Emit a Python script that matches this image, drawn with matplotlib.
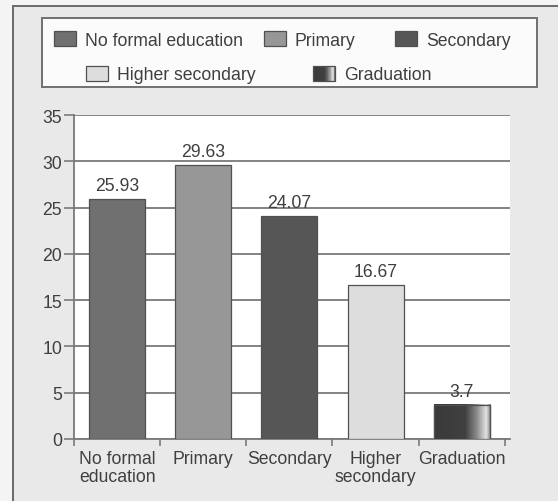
import numpy as np
import matplotlib.pyplot as plt
from matplotlib.patches import Rectangle
from matplotlib.colors import LinearSegmentedColormap

plt.rcParams['font.family'] = ['Liberation Sans', 'DejaVu Sans']

# Education level shares (%)
categories = ["No formal education", "Primary", "Secondary",
              "Higher secondary", "Graduation"]
tick_labels = ["No formal\neducation", "Primary", "Secondary",
               "Higher\nsecondary", "Graduation"]
values = [25.93, 29.63, 24.07, 16.67, 3.7]
bar_colors = ["#707070", "#979797", "#565656", "#dddddd", "#3c3c3c"]

W, H = 558, 502
fig = plt.figure(figsize=(W / 100, H / 100), dpi=100, facecolor="#f4f4f4")
txt = "#3f3f3f"
fs = 12.7

# grey gradient used for the "Graduation" bar
grad_cmap = LinearSegmentedColormap.from_list(
    "grad", [(0, "#3a3a3a"), (0.55, "#404040"), (0.75, "#8a8a8a"),
             (0.92, "#e2e2e2"), (1.0, "#7a7a7a")])


def px(x, y):
    # pixel coords (from top-left) to figure fraction
    return x / W, 1 - y / H


# outer panel frame
fx, fy = px(13, 7)
fig.patches.append(Rectangle((fx, -0.1), 1.2, fy + 0.1,
                             transform=fig.transFigure,
                             facecolor="#e9e9e9", edgecolor="#6a6a6a",
                             lw=1.4, zorder=-2))

# axes
ax = fig.add_axes([74 / W, 62 / H, (510 - 74) / W, (440 - 116) / H])
ax.set_facecolor("white")
x = np.arange(len(values))
bw = 0.65
bars = ax.bar(x, values, width=bw, color=bar_colors, edgecolor="#505050",
              lw=0.9, zorder=3)

# gradient fill over the last bar
b = bars[-1]
grad = np.linspace(0, 1, 256).reshape(1, -1)
ax.imshow(grad, cmap=grad_cmap, aspect="auto", zorder=3.5,
          extent=(b.get_x(), b.get_x() + b.get_width(), 0, b.get_height()))
ax.add_patch(Rectangle((b.get_x(), 0), b.get_width(), b.get_height(),
                       fill=False, edgecolor="#505050", lw=0.9, zorder=4))

for xi, v in zip(x, values):
    ax.annotate(f"{v:g}", (xi, v), xytext=(0, 3.5), textcoords="offset points",
                ha="center", va="bottom", fontsize=fs, color=txt, zorder=5)

ax.set_xlim(-0.5, 4.56)
ax.set_ylim(0, 35)
ax.set_yticks(np.arange(0, 36, 5))
ax.yaxis.grid(True, color="#7a7a7a", lw=1.3, zorder=1)
ax.set_axisbelow(True)
for s in ["top", "right"]:
    ax.spines[s].set_visible(False)
for s in ["left", "bottom"]:
    ax.spines[s].set_color("#7a7a7a")
    ax.spines[s].set_linewidth(1.3)
ax.tick_params(axis="y", length=7, width=1.2, color="#7a7a7a", pad=1.5,
               labelsize=fs, labelcolor=txt)

# boundary ticks on x, labels at bar centres
ax.set_xticks(np.arange(-0.5, 4.6, 1))
ax.set_xticklabels([])
ax.tick_params(axis="x", which="major", length=5, width=1.2,
               color="#7a7a7a")
ax.set_xticks(x, minor=True)
ax.set_xticklabels(tick_labels, minor=True, fontsize=fs, color=txt,
                   linespacing=1.05)
ax.tick_params(axis="x", which="minor", length=0, pad=8)

# legend box
lx0, ly0 = px(42, 88)
lx1, ly1 = px(537, 19)
fig.patches.append(Rectangle((lx0, ly0), lx1 - lx0, ly1 - ly0,
                             transform=fig.transFigure, facecolor="#fbfbfb",
                             edgecolor="#707070", lw=1.4, zorder=1))

legend_pos = [(54, 39), (264, 39), (395, 39), (86, 74), (313, 74)]
hw, hh = 22, 15
for i, (name, (hx, hy)) in enumerate(zip(categories, legend_pos)):
    x0, y0 = px(hx, hy + hh / 2)
    if i == len(categories) - 1:
        n = 30
        for k in range(n):
            fig.patches.append(Rectangle(
                (x0 + k * hw / n / W, y0), hw / n / W, hh / H,
                transform=fig.transFigure, lw=0,
                facecolor=grad_cmap(k / (n - 1)), zorder=2))
        fig.patches.append(Rectangle((x0, y0), hw / W, hh / H,
                                     transform=fig.transFigure, fill=False,
                                     edgecolor="#505050", lw=0.9, zorder=3))
    else:
        fig.patches.append(Rectangle((x0, y0), hw / W, hh / H,
                                     transform=fig.transFigure,
                                     facecolor=bar_colors[i],
                                     edgecolor="#505050", lw=0.9, zorder=2))
    tx, ty = px(hx + hw + 9, hy)
    fig.text(tx, ty, name, fontsize=fs, color=txt, ha="left",
             va="center_baseline")

fig.savefig("out.png", dpi=100, facecolor=fig.get_facecolor())
